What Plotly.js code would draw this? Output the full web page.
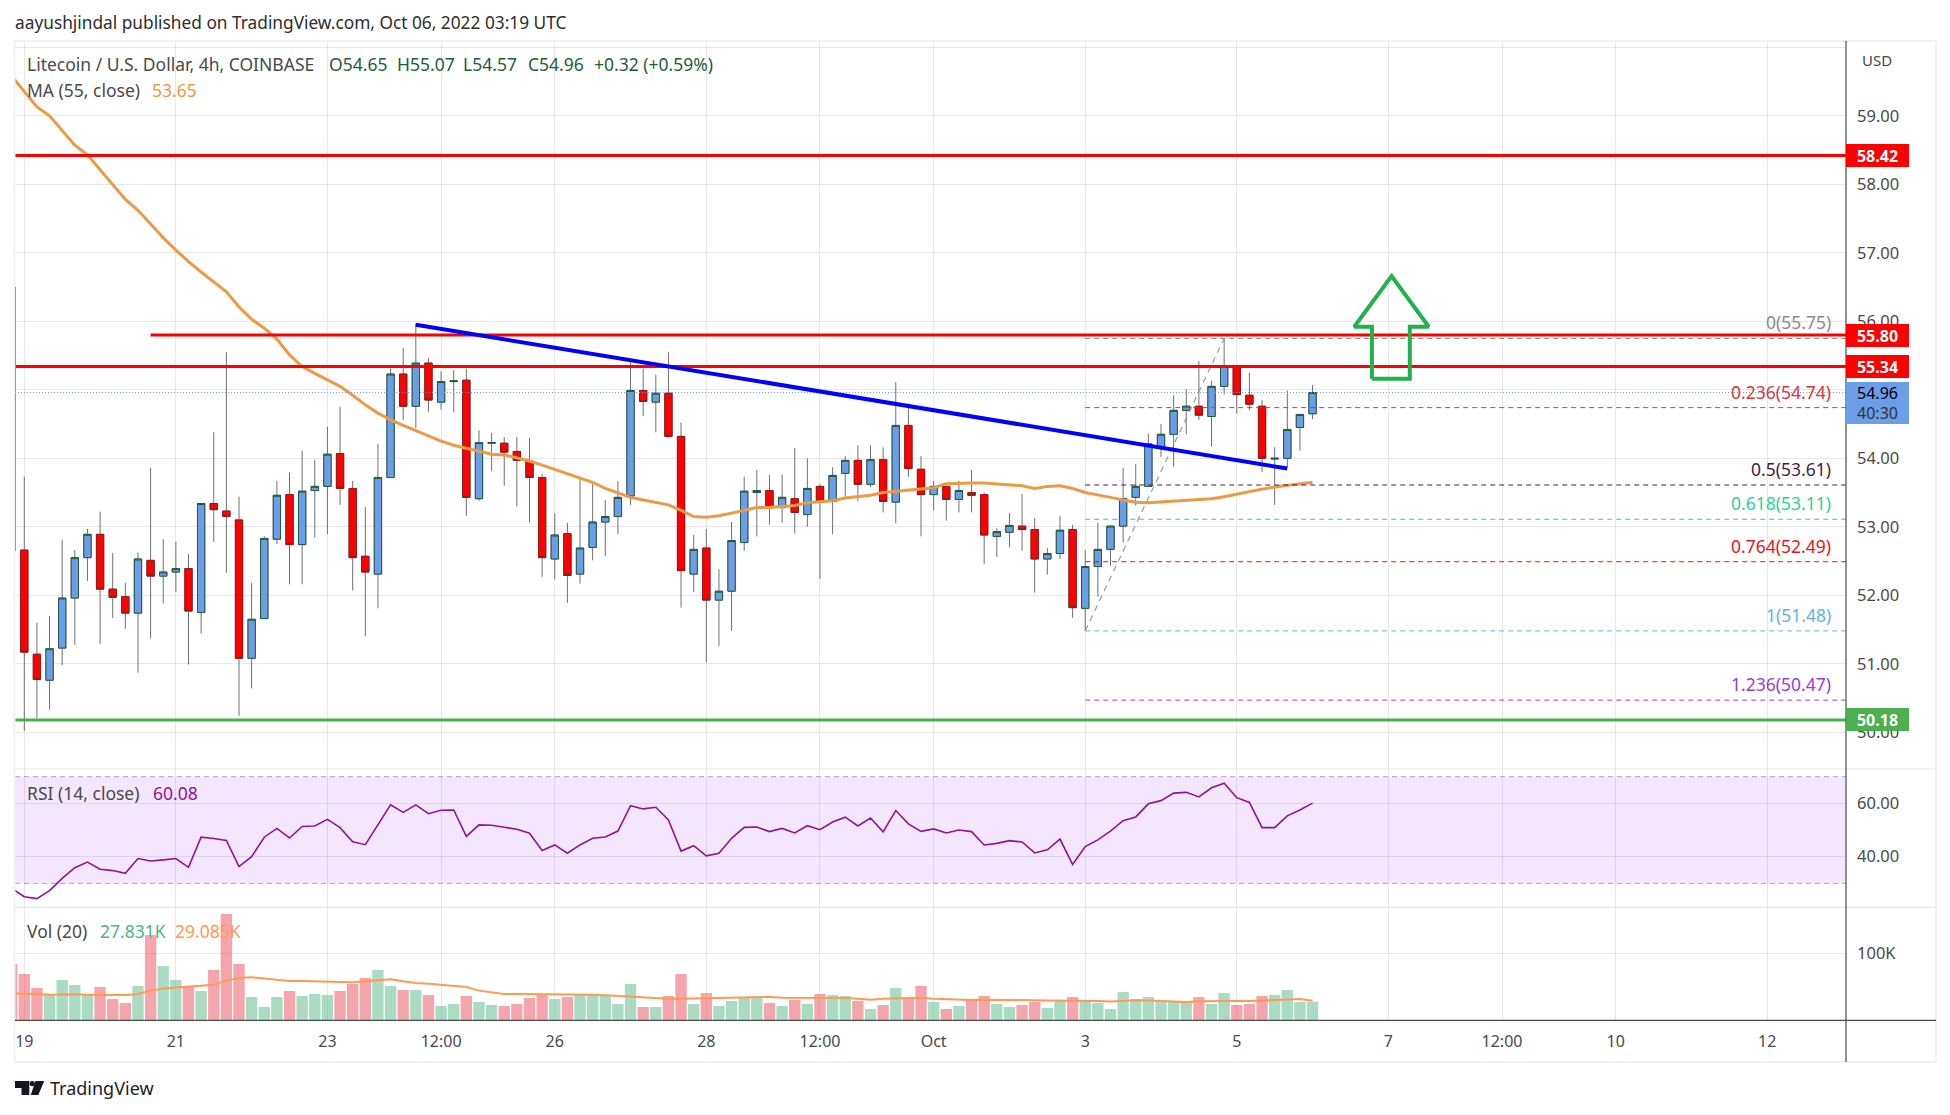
<!DOCTYPE html>
<html><head><meta charset="utf-8">
<script src="https://cdn.plot.ly/plotly-3.0.1.min.js"></script>
<style>html,body{margin:0;padding:0;background:#fff}</style></head>
<body><div id="chart" style="width:1950px;height:1115px"></div>
<script>
// Candle index -1 is the partly clipped bar at the left edge; index 0 = 19 Sep 2022 00:00 UTC, 4h bars.
const opens=[56.50,
52.66,51.14,50.76,51.23,51.96,52.55,52.89,52.09,51.98,51.74,
52.51,52.28,52.34,52.39,51.75,53.34,53.23,53.10,51.08,51.66,
52.82,53.47,52.74,53.53,53.59,54.07,53.56,52.57,52.31,53.72,
55.23,54.76,55.39,54.82,55.12,55.14,53.41,54.22,54.22,54.10,
53.96,53.72,52.53,52.90,52.31,52.70,53.07,53.15,53.45,54.99,
54.82,54.95,54.32,52.31,52.69,51.93,52.06,52.77,53.50,53.53,
53.28,53.41,53.18,53.59,53.37,53.78,53.97,53.62,53.98,53.36,
54.48,53.84,53.47,53.59,53.40,53.50,53.47,52.86,52.92,53.01,
52.96,52.53,52.61,52.96,51.81,52.42,52.67,53.01,53.43,53.59,
54.15,54.35,54.70,54.76,54.61,55.05,55.34,54.92,54.76,53.99,
54.00,54.45,54.65];
const closes=[52.65,
51.17,50.77,51.22,51.96,52.55,52.89,52.09,51.97,51.74,52.53,
52.28,52.34,52.39,51.77,53.34,53.25,53.15,51.08,51.65,52.83,
53.46,52.74,53.52,53.59,54.06,53.56,52.55,52.34,53.72,55.23,
54.76,55.39,54.85,55.12,55.13,53.43,54.23,54.23,54.09,53.97,
53.72,52.55,52.88,52.29,52.69,53.07,53.15,53.43,54.99,54.83,
54.95,54.32,52.36,52.67,51.93,52.06,52.80,53.52,53.53,53.28,
53.43,53.21,53.56,53.37,53.75,53.97,53.62,53.98,53.37,54.48,
53.85,53.47,53.59,53.40,53.53,53.46,52.88,52.93,53.02,52.96,
52.53,52.61,52.95,51.82,52.42,52.67,53.01,53.41,53.59,54.21,
54.35,54.70,54.76,54.63,55.05,55.34,54.93,54.79,54.00,54.00,
54.42,54.64,54.96];
const highs=[56.60,
53.73,51.60,51.70,52.81,52.66,52.97,53.22,52.62,52.18,52.62,
53.86,52.82,52.78,52.60,53.34,54.38,55.55,53.44,52.18,52.86,
53.67,53.79,54.11,53.98,54.46,54.75,53.67,53.29,54.21,55.31,
55.61,55.97,55.46,55.27,55.29,55.31,54.41,54.37,54.31,54.31,
54.30,53.77,53.20,53.06,53.73,53.63,53.39,53.67,55.40,55.31,
55.22,55.55,54.52,52.88,52.97,52.38,53.07,53.73,53.83,53.76,
53.76,54.15,54.00,53.62,53.87,54.03,54.19,54.19,54.16,55.11,
54.80,54.03,53.67,53.59,53.67,53.83,53.50,52.98,53.20,53.48,
53.13,52.69,53.16,53.03,52.66,53.06,53.01,53.86,53.92,54.36,
54.50,54.92,55.01,55.42,55.13,55.75,55.34,55.25,54.85,54.16,
54.99,54.64,55.07];
const lows=[52.50,
50.02,50.19,50.33,50.98,51.28,52.21,51.29,51.67,51.51,50.87,
51.37,51.88,52.05,50.99,51.44,52.78,52.33,50.24,50.64,51.66,
52.75,52.16,52.16,52.84,52.89,53.32,52.07,51.40,51.81,53.72,
54.56,54.44,54.68,54.71,54.67,53.16,53.38,53.81,53.60,53.30,
53.06,52.27,52.23,51.89,52.17,52.51,52.57,52.89,53.32,54.62,
54.38,54.30,51.82,52.05,51.02,51.26,51.48,52.65,52.86,53.03,
53.06,52.90,53.00,52.24,52.89,53.44,53.38,53.58,53.21,53.05,
53.73,52.86,53.24,53.09,53.21,53.21,52.46,52.56,52.70,52.65,
52.04,52.30,52.53,51.67,51.48,51.98,52.43,52.77,53.31,53.59,
54.02,53.88,54.35,54.56,54.17,54.93,54.65,54.70,53.80,53.32,
53.87,54.11,54.57];
const ma55=[59.58,
59.35,59.13,59.00,58.78,58.57,58.43,58.21,57.99,57.78,57.62,
57.42,57.22,57.04,56.87,56.72,56.58,56.43,56.21,56.03,55.90,
55.74,55.51,55.34,55.24,55.14,55.05,54.92,54.78,54.66,54.56,
54.48,54.40,54.32,54.25,54.19,54.15,54.10,54.06,54.05,54.01,
53.96,53.90,53.84,53.78,53.71,53.65,53.56,53.49,53.43,53.39,
53.36,53.32,53.24,53.15,53.14,53.16,53.20,53.24,53.28,53.28,
53.29,53.31,53.35,53.36,53.38,53.42,53.44,53.46,53.50,53.52,
53.53,53.55,53.57,53.63,53.64,53.64,53.64,53.63,53.62,53.60,
53.56,53.59,53.60,53.56,53.50,53.47,53.43,53.39,53.36,53.35,
53.36,53.37,53.38,53.39,53.41,53.44,53.48,53.52,53.55,53.58,
53.60,53.63,53.65];
const rsi=[28.2,
25.0,24.3,27.3,31.9,35.9,38.0,35.3,34.8,33.8,39.3,
38.4,38.8,39.3,36.0,47.3,46.8,46.1,36.3,40.0,47.3,
50.6,47.0,51.3,51.5,54.0,50.9,45.6,44.5,51.9,59.4,
56.6,59.4,56.1,57.4,57.5,47.6,51.9,51.8,51.0,50.3,
48.8,42.3,44.4,41.3,44.4,46.9,47.4,49.6,59.1,57.9,
58.5,53.8,42.1,44.1,40.3,41.3,46.9,51.0,51.1,49.4,
50.6,48.9,51.6,50.1,53.0,54.8,51.5,54.5,49.3,57.3,
52.3,49.5,50.4,48.9,50.0,49.4,44.4,45.0,46.0,45.5,
41.4,42.6,46.6,37.1,43.8,46.3,49.6,53.5,54.9,59.8,
61.0,63.8,64.1,62.4,65.8,67.5,62.1,60.3,50.9,50.9,
55.3,57.5,60.08];
const volumes=[84.1,
69.2,48.3,37.8,60.2,52.7,37.8,49.8,31.8,25.9,51.2,
127.4,81.1,60.2,49.8,43.8,75.1,158.7,84.1,34.8,19.9,
34.8,43.8,36.3,39.3,37.8,43.8,54.2,63.2,75.1,51.2,
45.3,45.3,37.8,21.4,24.4,36.3,27.4,22.9,21.4,24.4,
33.3,37.8,31.8,34.8,37.8,37.8,37.8,24.4,54.2,19.9,
19.9,36.3,69.2,24.4,40.8,21.4,28.9,33.3,33.3,25.9,
21.4,30.3,24.4,39.3,37.8,36.3,28.9,16.9,22.9,48.3,
33.3,51.2,27.4,16.9,21.4,31.8,36.3,24.4,19.9,22.9,
27.4,18.4,28.9,34.8,28.9,25.9,16.9,42.3,31.8,34.8,
28.9,28.9,27.4,34.8,24.4,40.8,22.9,24.4,36.3,37.8,
45.3,27.4,27.831];
const volMa=[40.3,
40.3,39.3,38.3,38.8,38.8,38.3,37.8,37.8,37.8,39.3,
44.3,47.3,48.8,50.2,51.2,53.2,59.2,63.2,64.2,62.2,
60.2,58.7,58.7,58.2,57.2,56.7,56.7,58.2,60.2,61.2,
58.2,55.7,54.7,53.2,52.2,49.8,44.3,41.3,39.3,39.3,
39.3,39.3,39.3,38.8,38.8,38.3,37.3,36.3,34.8,33.8,
32.3,32.3,32.3,32.8,33.3,33.3,33.3,34.3,34.8,34.8,
33.8,33.8,33.3,33.3,32.8,33.3,32.3,30.8,32.3,32.8,
33.8,33.8,32.3,31.3,30.8,30.3,30.8,30.3,29.9,29.4,
29.9,29.4,29.4,29.9,29.4,28.9,27.9,29.4,29.9,29.4,
28.4,27.4,27.4,28.4,28.9,28.9,28.9,28.9,29.9,30.3,
31.3,31.8,29.085];
const priceTicks=[50,51,52,53,54,55,56,57,58,59,60];
const priceTickText=['50.00','51.00','52.00','53.00','54.00','','56.00','57.00','58.00','59.00',''];
const timeTickBars=[0,12,24,33,42,54,63,72,84,96,108,117,126,138];
const timeTickText=['19','21','23','12:00','26','28','12:00','Oct','3','5','7','12:00','10','12'];
const fibLevels=['0','0.236','0.5','0.618','0.764','1','1.236'];
const fibPrices=[55.75,54.74,53.61,53.11,52.49,51.48,50.47];
const fibColors=['#8a8a8a','#d9363b','#4c1a44','#2fcf97','#e8141c','#62b3e4','#9c3be0'];
const redLevels=[58.42,55.80,55.34];
const supportLevel=50.18;
const lastPrice=54.96;
const trendBars=[31,100], trendPrices=[55.95,53.85];
const arrowBars=[106.7,106.7,105.3,108.26,111.2,109.7,109.7,106.7];
const arrowPrices=[55.16,55.92,55.92,56.66,55.92,55.92,55.16,55.16];

const W=1950,H=1115;
const fx=p=>p/W, fy=p=>1-p/H;
const t0=Date.UTC(2022,8,19);
const barDate=i=>new Date(t0+i*4*3600e3).toISOString().slice(0,19).replace('T',' ');
const idx=opens.map((_,k)=>k-1);
const xs=idx.map(barDate);
const UP='#6b9de8',DOWN='#ff0000',UPB='#205c40',DOWNB='#8c1c1c',WICK='#707070';
const isUp=closes.map((c,k)=>c>=opens[k]);
const PX0=15,PX1=1846,PY0=41,PY1=769,PY2=907.3,PY3=1020.3,PY4=1062,FR=1936;
const barL=(PX0-24.3)/12.63, barR=(PX1-24.3)/12.63;
const font='"Noto Sans",sans-serif';
const GRID='rgba(90,70,110,0.13)';
const LBL=17.5;

const traces=[];
const base={hoverinfo:'skip',showlegend:false};
traces.push(Object.assign({type:'bar',x:xs,y:volumes,xaxis:'x',yaxis:'y3',
  marker:{color:isUp.map(u=>u?'rgba(83,185,135,0.5)':'rgba(235,77,92,0.5)'),line:{width:0}}},base));
traces.push(Object.assign({type:'candlestick',x:xs,open:opens,high:highs,low:lows,close:closes,xaxis:'x',yaxis:'y',whiskerwidth:0,
  increasing:{line:{color:WICK,width:1},fillcolor:UP},decreasing:{line:{color:WICK,width:1},fillcolor:DOWN}},base));
traces.push(Object.assign({type:'candlestick',x:xs,open:opens,close:closes,
  high:opens.map((o,k)=>Math.max(o,closes[k])),low:opens.map((o,k)=>Math.min(o,closes[k])),xaxis:'x',yaxis:'y',whiskerwidth:0,
  increasing:{line:{color:UPB,width:1},fillcolor:UP},decreasing:{line:{color:DOWNB,width:1},fillcolor:DOWN}},base));
const line=(x,y,color,width,dash,ax)=>Object.assign({type:'scatter',mode:'lines',x,y,xaxis:'x',yaxis:ax||'y',
  line:{color,width,dash:dash||'solid'},cliponaxis:true},base);
traces.push(line(xs,ma55,'#ec9a45',3));
fibPrices.forEach((p,k)=>traces.push(line([barDate(84),barDate(barR)],[p,p],fibColors[k],1,'5px,4px')));
traces.push(line([barDate(84),barDate(95)],[fibPrices[5],fibPrices[0]],'#9a9a9a',1.2,'6px,5px'));
traces.push(line([barDate(barL),barDate(barR)],[lastPrice,lastPrice],'#6b9de8',1,'1px,2px'));
traces.push(line([barDate(barL),barDate(barR)],[redLevels[0],redLevels[0]],'#ff0000',3));
traces.push(line([barDate(10),barDate(barR)],[redLevels[1],redLevels[1]],'#ff0000',3));
traces.push(line([barDate(barL),barDate(barR)],[redLevels[2],redLevels[2]],'#ff0000',3));
traces.push(line([barDate(barL),barDate(barR)],[supportLevel,supportLevel],'#4caf50',3));
traces.push(line(trendBars.map(barDate),trendPrices,'#0000ff',4));
traces.push(line(arrowBars.map(barDate),arrowPrices,'#22b14c',4));
traces.push(line(xs,rsi,'#8e1599',1.6,null,'y2'));
traces.push(line(xs,volMa,'#ff9a50',2,null,'y3'));

const ann=[];
const txt=(px,py,text,size,color,anchor)=>ann.push({xref:'paper',yref:'paper',x:fx(px),y:fy(py),text,showarrow:false,
  xanchor:anchor||'left',yanchor:'middle',font:{family:font,size,color},borderpad:0,borderwidth:0});
txt(15,23,'aayushjindal published on TradingView.com, Oct 06, 2022 03:19 UTC',17.3,'#2e2e2e');
txt(27,63.5,'Litecoin / U.S. Dollar, 4h, COINBASE',LBL,'#4a4a4a');
const G='#1f5c40';
txt(329,63.5,'O54.65',LBL,G);txt(397,63.5,'H55.07',LBL,G);txt(463,63.5,'L54.57',LBL,G);txt(528,63.5,'C54.96',LBL,G);txt(594,63.5,'+0.32 (+0.59%)',LBL,G);
txt(27,90,'MA (55, close)',LBL,'#4a4a4a');txt(152,90,'53.65',LBL,'#ec9a45');
txt(27,793,'RSI (14, close)',LBL,'#4a4a4a');txt(152.5,793,'60.08',LBL,'#8e1599');
txt(27,931,'Vol (20)',LBL,'#4a4a4a');txt(100,931,'27.831K',LBL,'#4db58a');txt(175,931,'29.085K',LBL,'#ff9a50');
txt(1862,60,'USD',15,'#4a4a4a');
txt(49.5,1088,'TradingView',18,'#1c1c28');
fibLevels.forEach((l,k)=>ann.push({xref:'paper',yref:'y',x:fx(1833),y:fibPrices[k],yshift:16,text:l+'('+fibPrices[k].toFixed(2)+')',showarrow:false,
  xanchor:'right',yanchor:'middle',font:{family:font,size:17.5,color:fibColors[k]}}));
const tag=(y,col,text,h,yshift,fc)=>ann.push({xref:'paper',yref:'y',x:fx(1846),y,yshift:yshift||0,text,showarrow:false,xanchor:'left',yanchor:'middle',
  width:63,height:h,align:'center',valign:'middle',bgcolor:col,borderpad:0,borderwidth:0,font:{family:font,size:16,color:fc||'#fff'}});
tag(redLevels[0],'#ff0000','<b>'+redLevels[0].toFixed(2)+'</b>',23);
tag(redLevels[1],'#ff0000','<b>'+redLevels[1].toFixed(2)+'</b>',23);
tag(redLevels[2],'#ff0000','<b>'+redLevels[2].toFixed(2)+'</b>',23);
tag(supportLevel,'#4caf50','<b>'+supportLevel.toFixed(2)+'</b>',23);
tag(lastPrice,'#6b9de8',lastPrice.toFixed(2)+'<br><span style="color:#333">40:30</span>',42,-10,'#000');

const pline=(x0,y0,x1,y1,color,width)=>({type:'line',xref:'paper',yref:'paper',x0:fx(x0),y0:fy(y0),x1:fx(x1),y1:fy(y1),line:{color,width},layer:'above'});
const shapes=[
 {type:'rect',xref:'x domain',yref:'y2',x0:0,x1:1,y0:30,y1:70,fillcolor:'#f4e6fd',line:{width:0},layer:'below'},
 {type:'line',xref:'x domain',yref:'y2',x0:0,x1:1,y0:70,y1:70,line:{color:'#b9a6c4',width:1,dash:'5px,4px'},layer:'below'},
 {type:'line',xref:'x domain',yref:'y2',x0:0,x1:1,y0:30,y1:30,line:{color:'#b9a6c4',width:1,dash:'5px,4px'},layer:'below'},
 pline(14,41,FR,41,'#f0f0f5',2),pline(14,PY4,FR,PY4,'#f0f0f5',2),pline(14.5,41,14.5,PY4,'#f0f0f5',2),pline(FR,41,FR,PY4,'#f0f0f5',2),
 pline(PX0,PY1,FR,PY1,'#e8e8ea',1.2),pline(PX0,PY2,FR,PY2,'#e8e8ea',1.2),
 pline(PX0,PY3,FR,PY3,'#4a4a4a',1.2),pline(PX1,41,PX1,PY4,'#4a4a4a',1.2),
 {type:'path',xref:'paper',yref:'paper',fillcolor:'#131722',line:{width:0},layer:'above',
  path:`M${fx(15)},${fy(1081)} L${fx(29.3)},${fy(1081)} L${fx(29.3)},${fy(1095)} L${fx(21.5)},${fy(1095)} L${fx(21.5)},${fy(1088)} L${fx(15)},${fy(1088)} Z`},
 {type:'circle',xref:'paper',yref:'paper',x0:fx(29.6),x1:fx(34.8),y0:fy(1081),y1:fy(1086.2),fillcolor:'#131722',line:{width:0},layer:'above'},
 {type:'path',xref:'paper',yref:'paper',fillcolor:'#131722',line:{width:0},layer:'above',
  path:`M${fx(35.5)},${fy(1081)} L${fx(44.3)},${fy(1081)} L${fx(38.3)},${fy(1095)} L${fx(30.7)},${fy(1095)} Z`}
];
const yCommon={side:'right',anchor:'x',showline:false,zeroline:false,ticks:'',gridcolor:GRID,gridwidth:1,fixedrange:true,
  ticklabelstandoff:10,tickfont:{family:font,size:16.5,color:'#4a4a4a'},tickmode:'array'};
const layout={width:W,height:H,autosize:false,margin:{l:0,r:0,t:0,b:0},paper_bgcolor:'#fff',plot_bgcolor:'#fff',
  showlegend:false,hovermode:false,bargap:0.1,boxgap:0.42,boxgroupgap:0,
  xaxis:{type:'date',domain:[fx(PX0),fx(PX1)],range:[barDate(barL),barDate(barR)],anchor:'y3',tickmode:'array',
    tickvals:timeTickBars.map(barDate),ticktext:timeTickText,gridcolor:GRID,gridwidth:1,showline:false,zeroline:false,ticks:'',
    ticklabelstandoff:10,tickfont:{family:font,size:16,color:'#4a4a4a'},rangeslider:{visible:false},fixedrange:true},
  yaxis:Object.assign({},yCommon,{domain:[fy(PY1),fy(PY0)],range:[56-(PY1-321.3)/68.5,56+(321.3-PY0)/68.5],tickvals:priceTicks,ticktext:priceTickText}),
  yaxis2:Object.assign({},yCommon,{domain:[fy(PY2),fy(PY1)],range:[60-(PY2-803.3)/2.67,60+(803.3-PY1)/2.67],tickvals:[40,60],ticktext:['40.00','60.00']}),
  yaxis3:Object.assign({},yCommon,{domain:[fy(PY3),fy(PY2)],range:[0,(PY3-PY2)/0.67],tickvals:[100],ticktext:['100K']}),
  shapes,annotations:ann};
Plotly.newPlot('chart',traces,layout,{staticPlot:true,displayModeBar:false});
</script></body></html>
